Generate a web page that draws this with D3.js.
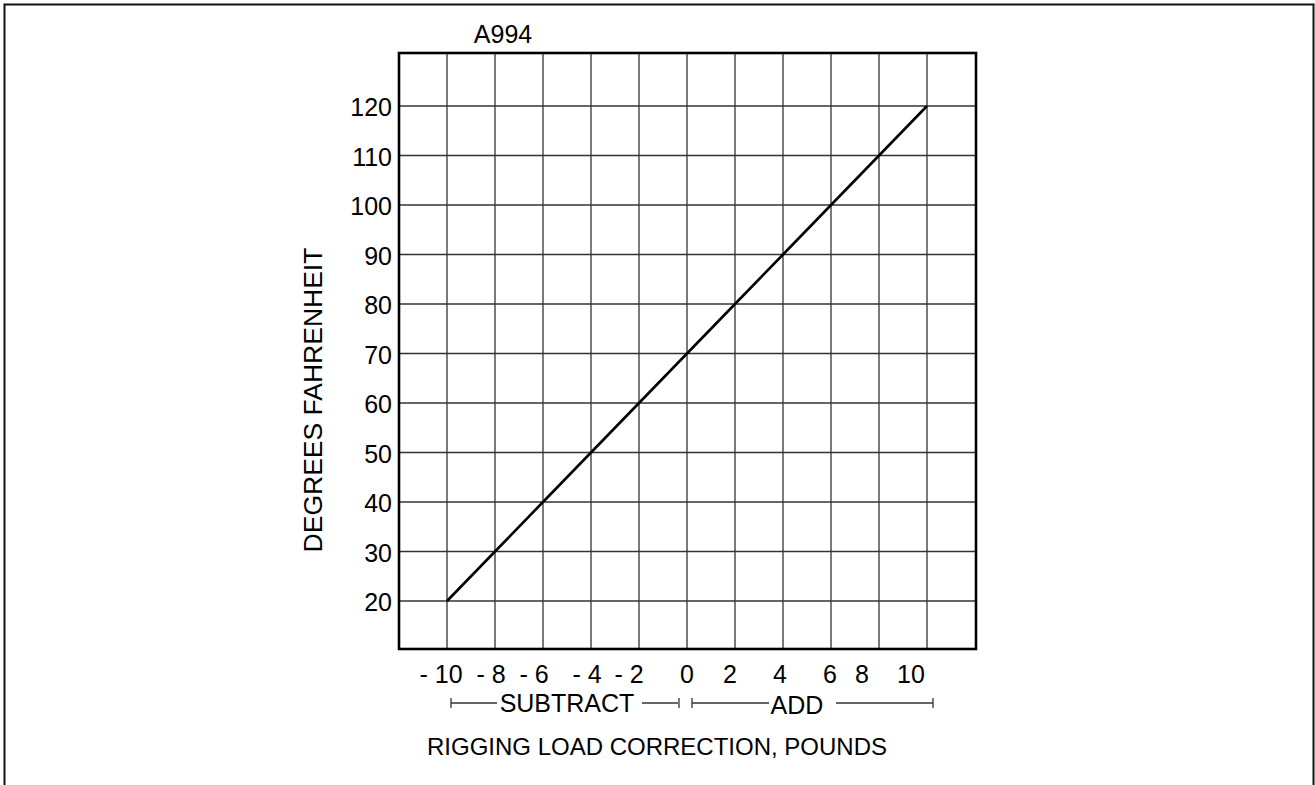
<!DOCTYPE html>
<html>
<head>
<meta charset="utf-8">
<script src="https://cdn.jsdelivr.net/npm/d3@7"></script>
<style>
  html, body { margin: 0; padding: 0; background: #fff; }
  svg { display: block; font-family: "Liberation Sans", Arial, Helvetica, sans-serif; }
</style>
</head>
<body>
<svg id="chart" width="1315" height="785"></svg>
<script>
// Temperature vs. rigging load correction
const temperatures = [20, 30, 40, 50, 60, 70, 80, 90, 100, 110, 120];
const corrections = [-10, -8, -6, -4, -2, 0, 2, 4, 6, 8, 10];
const yTicks = [20, 30, 40, 50, 60, 70, 80, 90, 100, 110, 120];
const xTicks = [-10, -8, -6, -4, -2, 0, 2, 4, 6, 8, 10];
const xTickLabels = ["- 10", "- 8", "- 6", "- 4", "- 2", "0", "2", "4", "6", "8", "10"];
const chartCode = "A994";
const yTitle = "DEGREES FAHRENHEIT";
const xTitle = "RIGGING LOAD CORRECTION, POUNDS";
const subtractLabel = "SUBTRACT";
const addLabel = "ADD";

// horizontal nudges for the hand-set x tick labels (px)
const xLabelNudge = [-6, -4, -9, -4, -10, 0, -5, -3, -1, -17, -16];

const svg = d3.select("#chart");
const frame = { left: 399, right: 976, top: 53, bottom: 649 };
const fs = 25;

const x = d3.scaleLinear().domain([-10, 10]).range([447, 927]);
const y = d3.scaleLinear().domain([20, 120]).range([601, 106]);

// page border
svg.append("rect")
  .attr("x", 4.5).attr("y", 4.5)
  .attr("width", 1309).attr("height", 800)
  .attr("fill", "none").attr("stroke", "#111").attr("stroke-width", 2);

// grid
const grid = svg.append("g").attr("stroke", "#333").attr("stroke-width", 1.3);
grid.selectAll("line.v").data(xTicks).join("line")
  .attr("class", "v")
  .attr("x1", d => x(d)).attr("x2", d => x(d))
  .attr("y1", frame.top).attr("y2", frame.bottom);
grid.selectAll("line.h").data(yTicks).join("line")
  .attr("class", "h")
  .attr("x1", frame.left).attr("x2", frame.right)
  .attr("y1", d => y(d)).attr("y2", d => y(d));

// frame
svg.append("rect")
  .attr("x", frame.left).attr("y", frame.top)
  .attr("width", frame.right - frame.left).attr("height", frame.bottom - frame.top)
  .attr("fill", "none").attr("stroke", "#000").attr("stroke-width", 2.6);

// correction line
const pts = temperatures.map((t, i) => ({ t, c: corrections[i] }));
svg.append("path")
  .datum(pts)
  .attr("fill", "none").attr("stroke", "#000").attr("stroke-width", 2.6)
  .attr("d", d3.line().x(d => x(d.c)).y(d => y(d.t)));

// y tick labels
svg.append("g").selectAll("text").data(yTicks).join("text")
  .attr("x", 392).attr("y", d => y(d) + 10)
  .attr("text-anchor", "end").attr("font-size", fs).attr("fill", "#000")
  .text(d => d);

// x tick labels
svg.append("g").selectAll("text").data(xTicks).join("text")
  .attr("x", (d, i) => x(d) + xLabelNudge[i]).attr("y", 683)
  .attr("text-anchor", "middle").attr("font-size", fs).attr("fill", "#000")
  .text((d, i) => xTickLabels[i]);

// chart code
svg.append("text")
  .attr("x", 503).attr("y", 43).attr("text-anchor", "middle")
  .attr("font-size", fs).text(chartCode);

// y title
svg.append("text")
  .attr("transform", "translate(322,400) rotate(-90)")
  .attr("text-anchor", "middle").attr("font-size", 26.5).text(yTitle);

// subtract / add bracket
const br = svg.append("g").attr("stroke", "#333").attr("stroke-width", 1.3);
const by = 703;
const brSegs = [[451, 497], [642, 678], [692, 769], [836, 933]];
brSegs.forEach(s => br.append("line").attr("x1", s[0]).attr("x2", s[1]).attr("y1", by).attr("y2", by));
[451, 679, 692, 933].forEach(tx => br.append("line").attr("x1", tx).attr("x2", tx).attr("y1", by - 5).attr("y2", by + 5));
svg.append("text").attr("x", 567).attr("y", 712).attr("text-anchor", "middle")
  .attr("font-size", fs).text(subtractLabel);
svg.append("text").attr("x", 797).attr("y", 714).attr("text-anchor", "middle")
  .attr("font-size", fs).text(addLabel);

// x title
svg.append("text").attr("x", 657).attr("y", 755).attr("text-anchor", "middle")
  .attr("font-size", 24).text(xTitle);
</script>
</body>
</html>
